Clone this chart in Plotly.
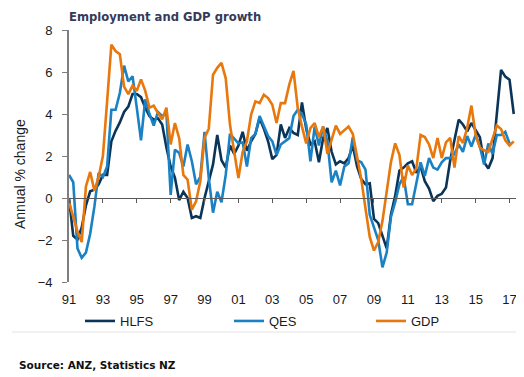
import plotly.graph_objects as go

# Quarterly, 1991Q1 .. 2017Q2
start_year = 1991
n_quarters = 106
quarters = [start_year + i * 0.25 for i in range(n_quarters)]

hlfs = [
    0.0, -1.8, -1.98, -1.4,
    -0.35, 0.32, 0.4, 0.65,
    1.1, 1.1, 2.7, 3.2,
    3.6, 4.1, 4.35, 4.95,
    4.95, 4.8, 4.3, 3.9,
    3.73, 3.8, 3.5, 2.4,
    1.5, 0.97, -0.1, 0.3,
    0.0, -0.95, -0.87, -0.95,
    0.0, 0.8, 1.6, 3.0,
    1.8, 1.45, 2.5, 2.1,
    2.5, 3.15, 2.25, 2.7,
    3.05, 3.8, 3.3, 2.7,
    1.85, 2.05, 3.5, 2.86,
    3.33, 3.1, 3.0, 4.55,
    3.3, 2.55, 2.7, 1.7,
    2.85, 3.33, 2.2, 1.6,
    1.75, 1.65, 1.9, 2.5,
    1.5, 0.9, 0.65, 0.7,
    -1.0, -1.2, -1.8, -2.4,
    -0.8, 0.1, 1.3, 1.45,
    1.65, 1.75, 1.2, 1.5,
    0.8, 0.45, -0.15, 0.1,
    0.2, 0.5, 1.8, 2.8,
    3.73, 3.5, 3.17, 3.57,
    3.2, 2.9, 1.7, 1.4,
    1.9, 4.0, 6.1, 5.78,
    5.63, 4.0,
]

qes = [
    1.1, 0.75, -2.4, -2.85,
    -2.6, -1.7, -0.4, 1.2,
    1.0, 1.5, 4.2, 4.2,
    5.0, 6.3, 5.55, 5.8,
    4.3, 2.75, 4.7, 4.0,
    3.45, 4.1, 3.9, 4.05,
    0.15, 2.3, 2.15, 1.5,
    2.55, 1.75, 0.65, 1.0,
    3.15, 0.95, -0.7, 0.3,
    -0.2, 1.1, 3.05, 2.8,
    2.6, 2.65, 1.5, 2.85,
    3.05, 3.9, 3.4, 2.95,
    2.7, 2.05, 2.55, 2.7,
    2.85, 3.9, 4.2, 4.0,
    3.5, 1.75, 3.4, 2.5,
    3.4, 2.7, 0.75, 1.3,
    0.6, 1.5, 1.65, 2.9,
    1.8, 1.7, 1.35, -0.8,
    -1.45, -2.0, -3.3, -2.6,
    -0.9, -0.2, 0.65, 1.0,
    -0.3, -0.3, 0.7, 1.7,
    1.05, 1.9, 1.45, 1.35,
    1.7, 1.9, 1.9, 2.1,
    2.55, 2.2, 2.95, 2.45,
    3.0, 2.45, 1.6, 2.6,
    2.1, 3.0, 3.0, 3.15,
    2.6, None,
]

gdp = [
    -0.2, -0.9, -1.6, -2.1,
    0.55, 1.24, 0.35, 1.0,
    2.0, 4.6, 7.3, 7.0,
    6.85, 5.3, 4.95, 5.35,
    5.1, 5.65, 5.1, 4.3,
    4.4, 4.05, 3.75, 4.3,
    2.55, 3.57, 2.86, 1.1,
    0.87, -0.56, -0.16, 0.8,
    2.86, 3.3, 5.87, 6.2,
    6.43, 5.7, 3.5, 2.2,
    0.95, 2.2, 2.7, 3.97,
    4.6, 4.52, 4.92, 4.76,
    4.44, 3.57, 4.52, 4.52,
    5.4, 6.05, 4.29, 3.4,
    2.6, 3.33, 3.57, 2.9,
    3.4, 2.1, 2.8, 3.45,
    3.05, 3.25, 3.4, 3.05,
    1.9, 0.9, -0.5, -1.85,
    -2.5, -2.1, -1.1, 0.3,
    1.7, 2.6, 2.06, 0.5,
    1.55, 1.1, 1.4, 3.0,
    2.9, 2.55, 1.9, 2.86,
    1.9, 2.65, 2.86, 1.45,
    2.94, 2.62, 3.33, 4.4,
    3.0, 2.4, 2.27, 2.2,
    2.8, 3.45, 3.28, 2.75,
    2.5, 2.7,
]

tick_years = list(range(1991, 2018, 2))
tick_labels = ["91", "93", "95", "97", "99", "01", "03", "05", "07", "09", "11", "13", "15", "17"]
y_ticks = [-4, -2, 0, 2, 4, 6, 8]

C_HLFS = "#0b3558"
C_QES = "#1a82c4"
C_GDP = "#e8770c"
AXIS = "#7f7f7f"
TXT = "#1a1a1a"
FONT = "Liberation Sans"

fig = go.Figure()
fig.add_trace(go.Scatter(x=quarters, y=hlfs, name="HLFS", mode="lines", legend="legend",
                         line=dict(color=C_HLFS, width=2.6)))
fig.add_trace(go.Scatter(x=quarters, y=qes, name="QES", mode="lines", legend="legend2",
                         line=dict(color=C_QES, width=2.6)))
fig.add_trace(go.Scatter(x=quarters, y=gdp, name="GDP", mode="lines", legend="legend3",
                         line=dict(color=C_GDP, width=2.6), xaxis="x2"))

x_range = [1991, 2017.5]
y_range = [-4, 8]
zero_pos = (0 - y_range[0]) / (y_range[1] - y_range[0])


def legend_at(px):
    return dict(orientation="h", xref="container", yref="container",
                x=px / 524, xanchor="left", y=1 - 313 / 377, yanchor="middle",
                font=dict(size=13, color=TXT), bgcolor="rgba(0,0,0,0)")


fig.update_layout(
    width=524, height=377,
    margin=dict(l=61, r=14, t=22, b=103, autoexpand=False),
    paper_bgcolor="white", plot_bgcolor="white",
    font=dict(family=FONT, size=13, color=TXT),
    title=dict(text="<b>Employment and GDP growth</b>", xref="container", yref="container",
               x=61 / 524, xanchor="left", y=1 - 9 / 377, yanchor="middle",
               font=dict(family="DejaVu Sans", size=11.6, color="#353a5a")),
    xaxis=dict(range=x_range, tickvals=tick_years, ticktext=tick_labels,
               showline=False, ticks="", showgrid=False, zeroline=False,
               ticklabelstandoff=8, tickfont=dict(size=13, color=TXT)),
    xaxis2=dict(range=x_range, overlaying="x", anchor="free", position=zero_pos,
                tickvals=tick_years, showticklabels=False, showline=True,
                linecolor="#595959", linewidth=1.3, ticks="outside", ticklen=4,
                tickcolor="#595959", tickwidth=1.3, showgrid=False, zeroline=False),
    yaxis=dict(range=y_range, tickvals=y_ticks, showline=True, linecolor=AXIS,
               linewidth=1.8, ticks="outside", ticklen=5, tickcolor=AXIS, tickwidth=1.3,
               showgrid=False, zeroline=False, ticklabelstandoff=7,
               tickfont=dict(size=13, color=TXT)),
    legend=legend_at(72),
    legend2=legend_at(221),
    legend3=legend_at(363),
    showlegend=True,
)

fig.add_annotation(text="Annual % change", textangle=-90, xref="paper", yref="paper",
                   x=(12 - 61) / 449, y=(274 - 166) / 252, xanchor="center", yanchor="middle",
                   showarrow=False, font=dict(family=FONT, size=14, color=TXT))
fig.add_annotation(text="<b>Source: ANZ, Statistics NZ</b>", xref="paper", yref="paper",
                   x=(9 - 61) / 449, y=(274 - 357) / 252, xanchor="left", yanchor="middle",
                   showarrow=False, font=dict(family="DejaVu Sans", size=10.5, color="#111111"))

# faint frame lines (bottom and right)
fig.add_shape(type="line", xref="paper", yref="paper",
              x0=(4 - 61) / 449, x1=(521 - 61) / 449, y0=(274 - 324) / 252, y1=(274 - 324) / 252,
              line=dict(color="#e3e3e3", width=1))
fig.add_shape(type="line", xref="paper", yref="paper",
              x0=(521 - 61) / 449, x1=(521 - 61) / 449, y0=(274 - 15) / 252, y1=(274 - 324) / 252,
              line=dict(color="#e3e3e3", width=1))

fig.write_html("out.html")
